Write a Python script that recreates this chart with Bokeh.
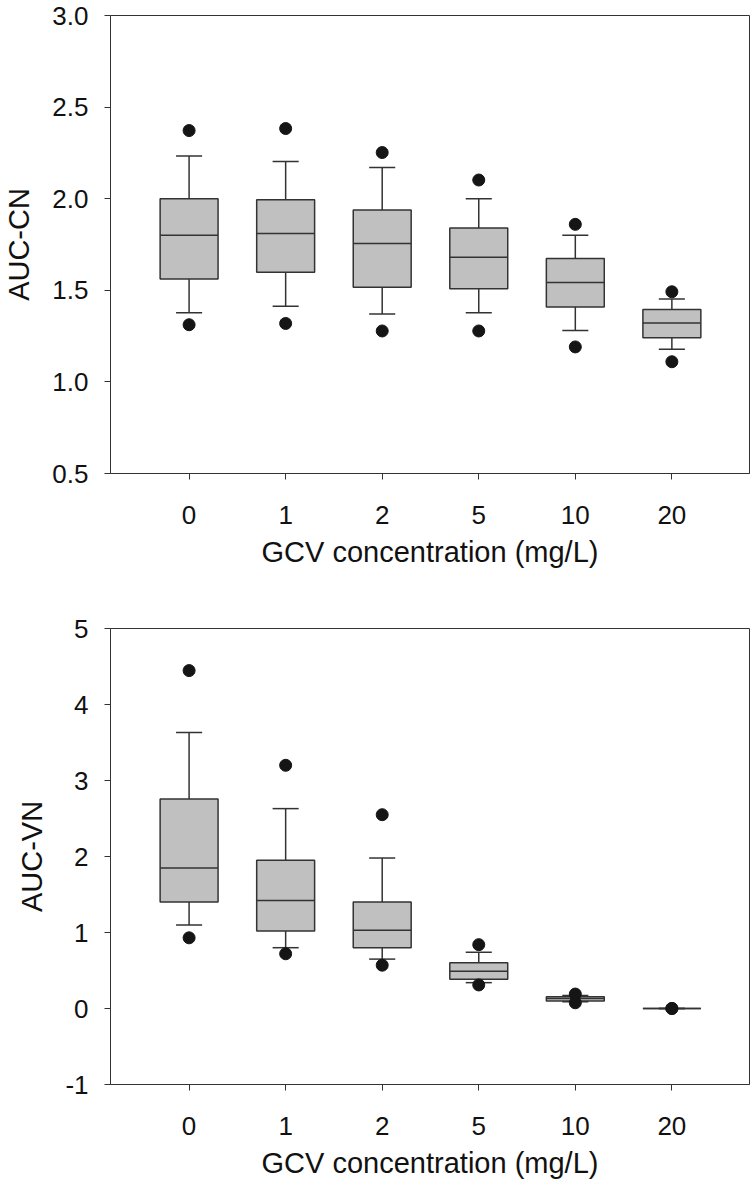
import numpy as np
from bokeh.plotting import figure
from bokeh.layouts import column
from bokeh.models import FixedTicker, Range1d
from bokeh.embed import file_html
from bokeh.resources import INLINE

categories = ["0", "1", "2", "5", "10", "20"]

# Top panel: AUC-CN
cn_lower_out = [1.312, 1.319, 1.278, 1.278, 1.191, 1.110]
cn_lower_cap = [1.377, 1.413, 1.371, 1.377, 1.281, 1.178]
cn_q1 = [1.562, 1.598, 1.517, 1.508, 1.409, 1.241]
cn_median = [1.800, 1.810, 1.755, 1.680, 1.543, 1.321]
cn_q3 = [2.000, 1.994, 1.939, 1.840, 1.673, 1.395]
cn_upper_cap = [2.233, 2.203, 2.170, 2.000, 1.800, 1.452]
cn_upper_out = [2.372, 2.383, 2.252, 2.102, 1.860, 1.492]

# Bottom panel: AUC-VN
vn_lower_out = [0.93, 0.72, 0.57, 0.31, 0.075, 0.0]
vn_lower_cap = [1.10, 0.80, 0.65, 0.34, 0.09, 0.0]
vn_q1 = [1.40, 1.02, 0.80, 0.385, 0.10, 0.0]
vn_median = [1.85, 1.42, 1.03, 0.49, 0.13, 0.0]
vn_q3 = [2.757, 1.95, 1.40, 0.601, 0.155, 0.0]
vn_upper_cap = [3.632, 2.63, 1.98, 0.74, 0.17, 0.0]
vn_upper_out = [4.446, 3.20, 2.55, 0.84, 0.19, 0.0]

cn_ticks = [0.5, 1.0, 1.5, 2.0, 2.5, 3.0]
vn_ticks = [-1, 0, 1, 2, 3, 4, 5]

FONT = "Liberation Sans"
DARK = "#333333"
BOX_W = 0.6
CAP_W = 0.27


def make_panel(ylabel, yr, yticks, ylabels, data, height, top, bottom):
    lo_out, lo_cap, q1, med, q3, up_cap, up_out = data
    x = np.arange(len(categories))
    p = figure(width=750, height=height, output_backend="svg", toolbar_location=None,
               x_range=Range1d(-0.814, 5.804), y_range=Range1d(*yr),
               min_border_left=107, min_border_right=1,
               min_border_top=top, min_border_bottom=bottom)
    p.xgrid.visible = False
    p.ygrid.visible = False
    p.outline_line_color = DARK
    p.outline_line_width = 1
    p.background_fill_color = "white"
    p.border_fill_color = "white"

    # whiskers
    p.segment(x0=x, y0=q3, x1=x, y1=up_cap, line_color=DARK, line_width=1.5)
    p.segment(x0=x, y0=q1, x1=x, y1=lo_cap, line_color=DARK, line_width=1.5)
    p.segment(x0=x - CAP_W / 2, y0=up_cap, x1=x + CAP_W / 2, y1=up_cap, line_color=DARK, line_width=1.5)
    p.segment(x0=x - CAP_W / 2, y0=lo_cap, x1=x + CAP_W / 2, y1=lo_cap, line_color=DARK, line_width=1.5)
    # boxes
    p.vbar(x=x, width=BOX_W, bottom=q1, top=q3, fill_color="#c0c0c0",
           line_color=DARK, line_width=1.5)
    p.segment(x0=x - BOX_W / 2, y0=med, x1=x + BOX_W / 2, y1=med, line_color=DARK, line_width=1.5)
    # outliers
    p.scatter(x=x, y=up_out, size=12, fill_color="#151515", line_color="#151515")
    p.scatter(x=x, y=lo_out, size=12, fill_color="#151515", line_color="#151515")

    p.xaxis.ticker = FixedTicker(ticks=list(x))
    p.xaxis.major_label_overrides = {int(i): c for i, c in zip(x, categories)}
    p.yaxis.ticker = FixedTicker(ticks=yticks)
    p.yaxis.major_label_overrides = {t: l for t, l in zip(yticks, ylabels)}
    p.xaxis.axis_label = "GCV concentration (mg/L)"
    p.yaxis.axis_label = ylabel
    for ax in (p.xaxis, p.yaxis):
        ax.axis_line_color = DARK
        ax.major_tick_line_color = DARK
        ax.major_tick_out = 6
        ax.major_tick_in = 0
        ax.minor_tick_line_color = None
        ax.major_label_text_font = FONT
        ax.major_label_text_font_size = "26px"
        ax.major_label_text_color = "#111111"
        ax.axis_label_text_font = FONT
        ax.axis_label_text_font_size = "29px"
        ax.axis_label_text_font_style = "normal"
        ax.axis_label_text_color = "#111111"
    p.xaxis.major_label_standoff = 26
    p.xaxis.axis_label_standoff = 9
    p.yaxis.major_label_standoff = 16
    p.yaxis.axis_label_standoff = 14
    return p


p1 = make_panel("AUC-CN", (0.5, 3.0), cn_ticks, ["0.5", "1.0", "1.5", "2.0", "2.5", "3.0"],
                (cn_lower_out, cn_lower_cap, cn_q1, cn_median, cn_q3, cn_upper_cap, cn_upper_out),
                height=600, top=15, bottom=127)
p2 = make_panel("AUC-VN", (-1, 5), vn_ticks, [str(t) for t in vn_ticks],
                (vn_lower_out, vn_lower_cap, vn_q1, vn_median, vn_q3, vn_upper_cap, vn_upper_out),
                height=582, top=28, bottom=98)

layout = column(p1, p2, spacing=0)
open("out.html", "w").write(file_html(layout, INLINE))
